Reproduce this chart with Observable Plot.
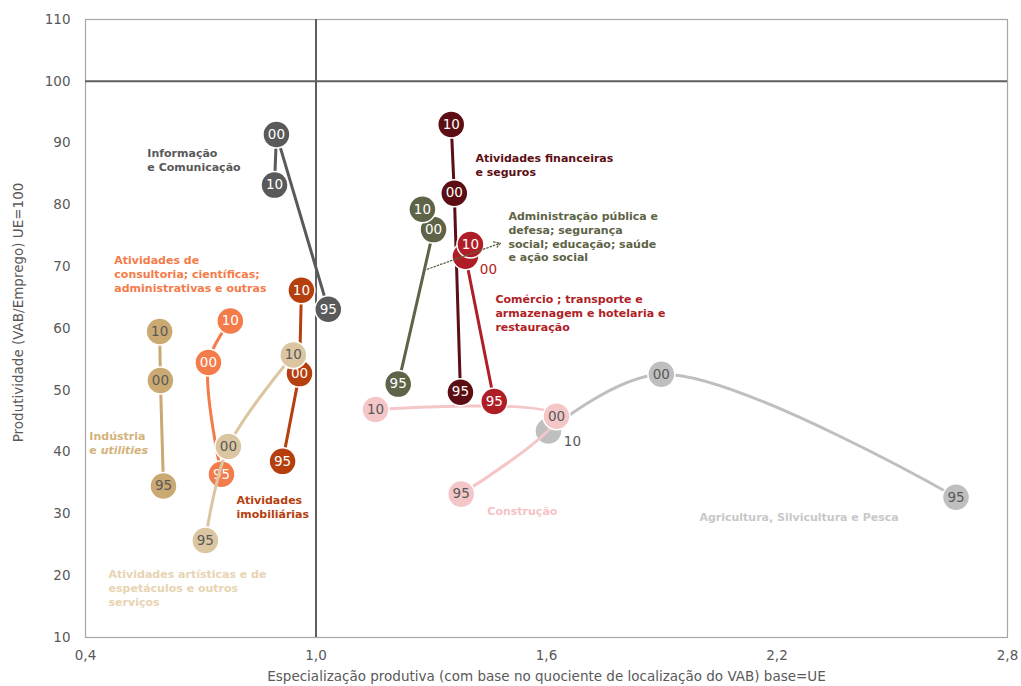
<!DOCTYPE html>
<html><head><meta charset="utf-8">
<script src="https://cdn.jsdelivr.net/npm/d3@7"></script>
<script src="https://cdn.jsdelivr.net/npm/@observablehq/plot@0.6"></script>
<style>
body{margin:0;background:#fff;}
#chart svg{font-family:"DejaVu Sans",Verdana,sans-serif;}
</style>
</head><body><div id="chart"></div>
<script>
// ---- data ----
const sectors = [
  "Agricultura, Silvicultura e Pesca",
  "Construção",
  "Atividades de consultoria; científicas; administrativas e outras",
  "Indústria e utilities",
  "Atividades imobiliárias",
  "Atividades artísticas e de espetáculos e outros serviços",
  "Informação e Comunicação",
  "Administração pública e defesa; segurança social; educação; saúde e ação social",
  "Atividades financeiras e seguros",
  "Comércio ; transporte e armazenagem e hotelaria e restauração"
];
const yearLabels = ["95", "00", "10"];
const x95 = [2.666, 1.378, 0.754, 0.603, 0.913, 0.712, 1.032, 1.214, 1.376, 1.464];
const y95 = [32.7, 33.2, 36.4, 34.5, 38.5, 25.7, 63.1, 51.0, 49.7, 48.2];
const x00 = [1.899, 1.626, 0.720, 0.595, 0.957, 0.772, 0.897, 1.306, 1.360, 1.389];
const y00 = [52.6, 45.8, 54.5, 51.6, 52.7, 40.9, 91.4, 76.0, 81.9, 71.7];
const x10 = [1.605, 1.155, 0.777, 0.593, 0.962, 0.941, 0.892, 1.277, 1.352, 1.402];
const y10 = [43.4, 46.9, 61.2, 59.5, 66.2, 55.7, 83.2, 79.3, 93.0, 73.6];
const xTicks = [0.4, 1.0, 1.6, 2.2, 2.8];
const yTicks = [10, 20, 30, 40, 50, 60, 70, 80, 90, 100, 110];
const xTitle = "Especialização produtiva (com base no quociente de localização do VAB) base=UE";
const yTitle = "Produtividade (VAB/Emprego) UE=100";

// ---- annotation texts (sector labels) ----
const labelTexts = [
  "Agricultura, Silvicultura e Pesca",
  "Construção",
  "Atividades de\nconsultoria; científicas;\nadministrativas e outras",
  "Indústria\ne utilities",
  "Atividades\nimobiliárias",
  "Atividades artísticas e de\nespetáculos e outros\nserviços",
  "Informação\ne Comunicação",
  "Administração pública e\ndefesa; segurança\nsocial; educação; saúde\ne ação social",
  "Atividades financeiras\ne seguros",
  "Comércio ; transporte e\narmazenagem e hotelaria e\nrestauração"
];
const labelX = [1.998, 1.446, 0.475, 0.410, 0.793, 0.460, 0.561, 1.501, 1.415, 1.467];
const labelY = [30.5, 31.4, 72.0, 43.5, 33.2, 21.2, 89.3, 79.1, 88.5, 65.7];
const arrowFrom = [1.290, 69.6];
const arrowTo = [1.480, 73.8];

// ---- styles ----
const colors = ["#BFBFBF", "#F5C6C8", "#F47C4A", "#CBA972", "#B5400E", "#DCC6A2", "#5A5A5A", "#5E6447", "#5C0E14", "#AF1E27"];
const labelColors = ["#C8C8C8", "#F5C3C3", "#F47C4A", "#D4B27E", "#B5400E", "#E8D4B2", "#595959", "#5E6447", "#5C0E14", "#B01E26"];
const numColors = ["#595959", "#595959", "#fff", "#595959", "#fff", "#595959", "#fff", "#fff", "#fff", "#fff"];
const curves = ["catmull-rom", "catmull-rom", "catmull-rom", "linear", "linear", "catmull-rom", "linear", "linear", "linear", "linear"];
// labels drawn outside the circle: [sector index, year index, dx, dy, color]
const outside = [[9, 1, 23, 13, "#B01E26"], [0, 2, 24, 11, "#595959"]];

const fmt = d => d.toFixed(1).replace(".", ",");

const marks = [];
marks.push(Plot.frame({stroke: "#A6A6A6", strokeWidth: 1.2}));
marks.push(Plot.ruleX([1.0], {stroke: "#5F5F5F", strokeWidth: 2}));
marks.push(Plot.ruleY([100], {stroke: "#5F5F5F", strokeWidth: 2}));
marks.push(Plot.axisX(xTicks, {tickSize: 0, tickPadding: 13, tickFormat: fmt, fontSize: 13.5, fill: "#595959", label: null}));
marks.push(Plot.axisY(yTicks, {tickSize: 0, tickPadding: 15, fontSize: 13.5, fill: "#595959", label: null}));
marks.push(Plot.text([xTitle], {frameAnchor: "bottom", dy: 43, fontSize: 13.5, fill: "#595959"}));
marks.push(Plot.text([yTitle], {frameAnchor: "left", textAnchor: "middle", rotate: -90, dx: -67, dy: -16, fontSize: 13.5, fill: "#595959"}));

sectors.forEach((s, i) => {
  const pts = [
    {x: x95[i], y: y95[i], t: yearLabels[0], k: 0},
    {x: x00[i], y: y00[i], t: yearLabels[1], k: 1},
    {x: x10[i], y: y10[i], t: yearLabels[2], k: 2}
  ];
  marks.push(Plot.line(pts, {x: "x", y: "y", stroke: colors[i], strokeWidth: 3, curve: curves[i]}));
  marks.push(Plot.dot(pts, {x: "x", y: "y", r: 13.5, fill: colors[i], stroke: "#fff", strokeWidth: 1.5}));
  const inside = pts.filter(p => !outside.some(o => o[0] === i && o[1] === p.k));
  marks.push(Plot.text(inside, {x: "x", y: "y", text: "t", fill: numColors[i], fontSize: 13.5}));
  outside.filter(o => o[0] === i).forEach(o => {
    marks.push(Plot.text([pts[o[1]]], {x: "x", y: "y", text: "t", dx: o[2], dy: o[3], fill: o[4], fontSize: 13.5}));
  });
});

marks.push(Plot.arrow([0], {x1: () => arrowFrom[0], y1: () => arrowFrom[1], x2: () => arrowTo[0], y2: () => arrowTo[1],
  stroke: "#5E6447", strokeWidth: 1.3, strokeDasharray: "1.5,2", headLength: 8}));

marks.push(Plot.text(sectors.map((s, i) => i), {
  x: i => labelX[i], y: i => labelY[i], text: i => labelTexts[i],
  fill: i => labelColors[i], textAnchor: "start", lineAnchor: "top",
  fontWeight: "bold", fontSize: 11, lineHeight: 1.25
}));

const chart = Plot.plot({
  width: 1021,
  height: 686,
  marginLeft: 85,
  marginRight: 14,
  marginTop: 19,
  marginBottom: 49,
  x: {domain: [0.4, 2.8]},
  y: {domain: [10, 110]},
  style: {fontFamily: "'DejaVu Sans', Verdana, sans-serif", background: "#fff"},
  marks
});

d3.select(chart).selectAll("tspan").filter(function() { return this.textContent === "e utilities"; })
  .each(function() {
    this.textContent = "e ";
    d3.select(this).append("tspan").attr("font-style", "italic").text("utilities");
  });

document.getElementById("chart").appendChild(chart);
</script>
</body></html>
